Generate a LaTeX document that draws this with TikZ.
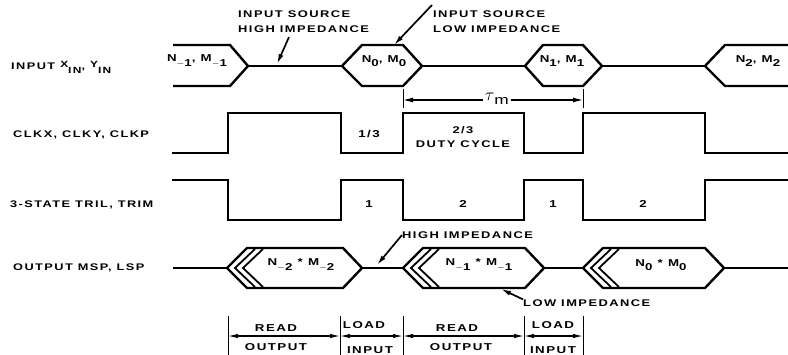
\documentclass[tikz,border=0pt]{standalone}
\usepackage{fontspec}
\setmainfont{Liberation Sans}[FakeStretch=1.33,LetterSpace=15]
\usetikzlibrary{arrows.meta}
\newcommand\lo[1]{\raisebox{-4.5pt}{#1}}
\begin{document}
\begin{tikzpicture}[x=1pt,y=1pt,yscale=-1,
  sig/.style={line width=2.4pt,line join=miter},
  chev/.style={line width=1.8pt},
  lab/.style={font=\bfseries\fontsize{9.6}{12}\selectfont,inner sep=0pt,anchor=west},
  ann/.style={font=\bfseries\fontsize{9.7}{14.5}\selectfont,inner sep=0pt,align=left},
  hx/.style={font=\bfseries\fontsize{10}{12}\selectfont,inner sep=0pt},
  dim/.style={line width=1pt},
  arr/.style={line width=1.7pt,-{Latex[length=10pt,width=5pt]}},
  dbl/.style={line width=1.2pt,{Latex[length=10pt,width=4.5pt]}-{Latex[length=10pt,width=4.5pt]}}]
\clip (0,0) rectangle (788,354);
\fill[white] (0,0) rectangle (788,354);
% ---------------- input row
\draw[sig] (173,45) -- (230,45) -- (248,66) -- (230,86) -- (173,86);
\draw[sig] (248,66) -- (342,66);
\draw[sig] (342,66) -- (362,45) -- (403,45) -- (422,66) -- (403,86) -- (362,86) -- cycle;
\draw[sig] (422,66) -- (525,66);
\draw[sig] (525,66) -- (543,45) -- (583,45) -- (602,66) -- (583,86) -- (543,86) -- cycle;
\draw[sig] (602,66) -- (705,66);
\draw[sig] (800,45) -- (725,45) -- (705,66) -- (725,86) -- (800,86);
\node[hx] (nm1) at (197,61) {N\lo{$-$1}, M\lo{$-$1}};
\node[hx] (nm0) at (384,61) {N\lo{0}, M\lo{0}};
\node[hx] (nmp1) at (562,61) {N\lo{1}, M\lo{1}};
\node[hx] (nmp2) at (758,61) {N\lo{2}, M\lo{2}};
% ---------------- input annotations
\node[ann,anchor=north west] (ish) at (238,11) {INPUT SOURCE\\HIGH IMPEDANCE};
\node[ann,anchor=north west] (isl) at (433,11) {INPUT SOURCE\\LOW IMPEDANCE};
\coordinate (ishS) at (289,37);
\coordinate (ishT) at (277,64);
\coordinate (islT) at (394,45);
\draw[arr] (ishS) -- (ishT);
\draw[arr] ([xshift=-1pt,yshift=-6pt]isl.north west) -- (islT);
% ---------------- clock row
\draw[sig] (172,153) -- (228,153) -- (228,113) -- (341,113) -- (341,153) -- (403,153) -- (403,113) -- (524,113) -- (524,153) -- (583,153) -- (583,113) -- (705,113) -- (705,153) -- (800,153);
\node[hx] (c13) at (369,134) {1/3};
\node[hx,align=center,font=\bfseries\fontsize{9.7}{14.5}\selectfont] (c23) at (463,137) {2/3\\DUTY CYCLE};
% ---------------- 3-state row
\draw[sig] (172,180) -- (228,180) -- (228,220) -- (341,220) -- (341,180) -- (403,180) -- (403,220) -- (524,220) -- (524,180) -- (583,180) -- (583,220) -- (705,220) -- (705,180) -- (800,180);
\node[hx] (t1a) at (369,204) {1};
\node[hx] (t2a) at (463,204) {2};
\node[hx] (t1b) at (553,204) {1};
\node[hx] (t2b) at (643,204) {2};
% ---------------- output row
\newcommand\ohex[2]{%
  \draw[sig] (#1,268) -- ++(20,-20) -- (#2,248) -- ++(19,20) -- ++(-19,20) -- ({#1+20},288) -- cycle;
  \draw[chev] ({#1+28},249) -- ({#1+8},268) -- ({#1+28},287);
  \draw[chev] ({#1+36},249) -- ({#1+16},268) -- ({#1+36},287);
}
\draw[sig] (173,268) -- (227,268);
\ohex{227}{343}
\draw[sig] (362,268) -- (403,268);
\ohex{403}{525}
\draw[sig] (544,268) -- (583,268);
\ohex{583}{705}
\draw[sig] (724,268) -- (800,268);
\node[hx] (p2) at (301,265) {N\lo{$-$2} * M\lo{$-$2}};
\node[hx] (p1) at (479,265) {N\lo{$-$1} * M\lo{$-$1}};
\node[hx] (p0) at (661,265) {N\lo{0} * M\lo{0}};
% ---------------- left labels
\node[lab] (linput) at (11,67) {INPUT \raisebox{2pt}{\fontsize{9}{10}\selectfont X}\raisebox{-4pt}{\fontsize{9}{10}\selectfont IN}, \raisebox{2pt}{\fontsize{9}{10}\selectfont Y}\raisebox{-4pt}{\fontsize{9}{10}\selectfont IN}};
\node[lab] (lclk) at (13,135) {CLKX, CLKY, CLKP};
\node[lab] (ltri) at (10,205) {3-STATE TRIL, TRIM};
\node[lab] (lout) at (13,268) {OUTPUT MSP, LSP};
% ---------------- output annotations
\node[ann,anchor=west] (ohi) at (402,235) {HIGH IMPEDANCE};
\coordinate (ohiT) at (377,265);
\draw[arr] (ohi.west) -- (ohiT);
\node[ann,anchor=west] (olo) at (523,303) {LOW IMPEDANCE};
\coordinate (oloT) at (501,289);
\draw[arr] (olo.north west) -- (oloT);
% ---------------- tau
\draw[dim] (403,89) -- (403,108);
\draw[dim] (583,89) -- (583,108);
\node[inner sep=1.5pt] (tau) at (497,99) {\fontsize{16}{16}\selectfont$\tau$\raisebox{-4pt}{\fontsize{13}{13}\selectfont m}};
\coordinate (tauL) at (403,100);
\coordinate (tauR) at (583,100);
\draw[arr,line width=1.2pt] (tau.west |- tauL) -- (tauL);
\draw[arr,line width=1.2pt] (tau.east |- tauR) -- (tauR);
% ---------------- bottom dimensions
\foreach \x in {228,340,403,524,583} \draw[dim] (\x,316) -- (\x,360);
\coordinate (d0) at (228,336);
\coordinate (d1) at (340,336);
\coordinate (d2) at (403,336);
\coordinate (d3) at (524,336);
\coordinate (d4) at (583,336);
\draw[dbl] (d0) -- (d1);
\draw[dbl] (d1) -- (d2);
\draw[dbl] (d2) -- (d3);
\draw[dbl] (d3) -- (d4);
\node[hx] (r1) at (276,328) {READ};
\node[hx] (o1) at (276,347) {OUTPUT};
\node[hx] (l1) at (364,325) {LOAD};
\node[hx] (i1) at (370,350) {INPUT};
\node[hx] (r2) at (457,328) {READ};
\node[hx] (o2) at (461,347) {OUTPUT};
\node[hx] (l2) at (553,325) {LOAD};
\node[hx] (i2) at (553,350) {INPUT};
\end{tikzpicture}
\end{document}
